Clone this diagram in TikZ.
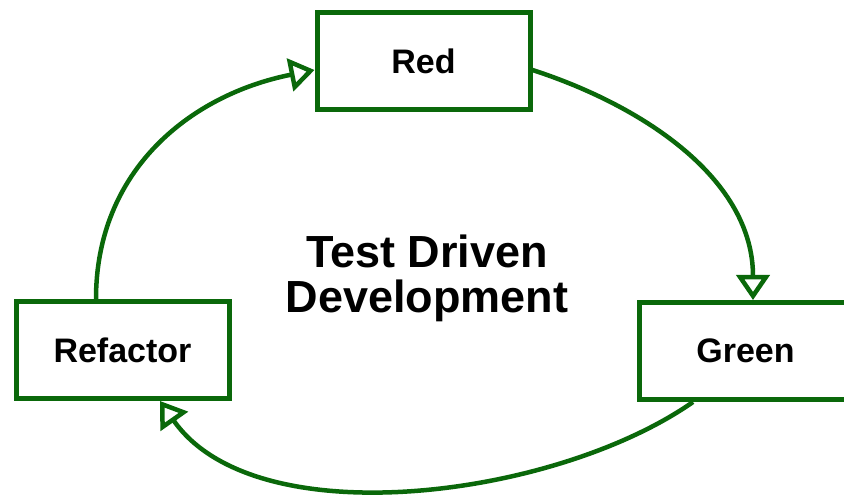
\documentclass[tikz,border=0pt]{standalone}
\usepackage{fontspec}
\setmainfont{Liberation Sans}
\usetikzlibrary{arrows.meta}
\definecolor{tddgreen}{RGB}{10,104,10}
\tikzset{
  stage/.style={draw=tddgreen, line width=5pt, fill=white, inner sep=0pt,
    minimum width=213pt, minimum height=97pt,
    font=\fontsize{34}{38}\selectfont\bfseries},
  cycle/.style={draw=tddgreen, line width=4.5pt,
    -{Triangle[open, length=25pt, width=33pt]}},
  heading/.style={align=center, inner sep=0pt,
    font=\fontsize{45}{45}\selectfont\bfseries}
}
\begin{document}
\begin{tikzpicture}[x=1pt, y=1pt]
  \useasboundingbox (0,0) rectangle (844,497);
  \clip (0,0) rectangle (844,497);

  % the three stages of the cycle
  \node[stage] (red)      at (423.5,436) {Red};
  \node[stage] (refactor) at (122.5,147) {Refactor};
  \node[stage] (green)    at (745.5,146) {Green};

  % centre title
  \node[heading] (title) at (427,219) {Test Driven\\Development};

  % connectors, clockwise
  \draw[cycle] ([xshift=-26.5pt]refactor.north)
    .. controls +(0,128) and +(-125,-25) .. ([yshift=-9pt]red.west);
  \draw[cycle] ([yshift=-9pt]red.east)
    to[out=-18, in=90, looseness=0.96] ([xshift=7.5pt]green.north);
  \draw[cycle] ([xshift=-52.5pt]green.south)
    to[out=215, in=-55, looseness=0.8] ([xshift=37.5pt]refactor.south);
\end{tikzpicture}
\end{document}
